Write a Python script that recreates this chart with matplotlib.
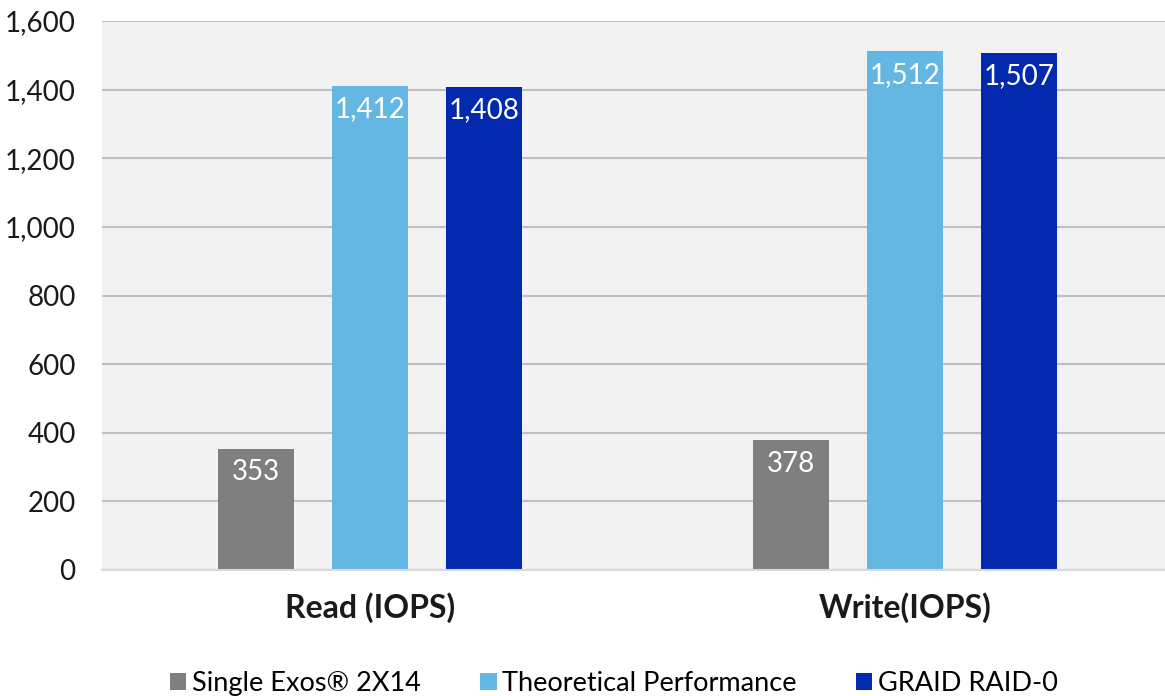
import numpy as np
import matplotlib.pyplot as plt

plt.rcParams['font.family'] = ['Lato', 'DejaVu Sans']

# datos
categories = ["Read (IOPS)", "Write(IOPS)"]
series = ["Single Exos® 2X14", "Theoretical Performance", "GRAID RAID-0"]
single_exos = [353, 378]
theoretical = [1412, 1512]
graid_raid0 = [1408, 1507]
y_ticks = [0, 200, 400, 600, 800, 1000, 1200, 1400, 1600]

colors = ["#7f7f7f", "#65b7e3", "#0229ae"]
values = [single_exos, theoretical, graid_raid0]

fig = plt.figure(figsize=(11.65, 6.96), dpi=100)
ax = fig.add_axes([102 / 1165, 126 / 696, 1063 / 1165, 549 / 696])
ax.set_facecolor("#f2f2f2")

x = np.arange(len(categories))
width = 0.142
step = 0.213
for i, (vals, col, name) in enumerate(zip(values, colors, series)):
    pos = x + (i - 1) * step
    bars = ax.bar(pos, vals, width, color=col, label=name, zorder=3)
    for b, v in zip(bars, vals):
        ax.annotate(f"{v:,}", (b.get_x() + b.get_width() / 2, v),
                    xytext=(0, -17), textcoords="offset points",
                    ha="center", va="center", color="white", fontsize=20, zorder=4)

ax.set_xlim(-0.5, 1.4855)
ax.set_ylim(0, 1600)
ax.set_yticks(y_ticks)
ax.set_yticklabels([f"{t:,}" for t in y_ticks], fontsize=20, color="#1a1a1a")
ax.set_xticks(x)
ax.set_xticklabels(categories, fontsize=23, fontweight="bold", color="#1a1a1a")
ax.tick_params(axis="y", length=0, pad=19)
ax.tick_params(axis="x", length=0, pad=16)
ax.grid(axis="y", color="#bfbfbf", linewidth=1.5, zorder=0)
for s in ["top", "right", "left"]:
    ax.spines[s].set_visible(False)
ax.spines["bottom"].set_color("#d9d9d9")
ax.spines["bottom"].set_linewidth(1.5)
ax.spines["bottom"].set_zorder(5)

fig.legend(loc="center", bbox_to_anchor=(0.527, 0.018), ncol=3, frameon=False,
           fontsize=19.5, handlelength=0.6, handleheight=0.6, handletextpad=0.2,
           columnspacing=2.2)

fig.savefig("out.png", dpi=100)
